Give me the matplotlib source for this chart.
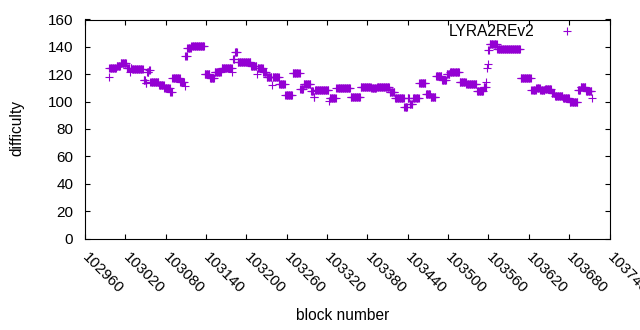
import numpy as np
import matplotlib
matplotlib.use("Agg")
import matplotlib.pyplot as plt

# Runs of consecutive blocks sharing one difficulty value (start block, end block, difficulty)
run_start = [102995, 102996, 103007, 103013, 103022, 103027, 103028, 103030, 103047, 103050,
             103052, 103055, 103057, 103070, 103078, 103087, 103090, 103102, 103108, 103109,
             103112, 103118, 103138, 103146, 103153, 103163, 103179, 103180, 103183, 103187,
             103207, 103216, 103217, 103225, 103230, 103238, 103239, 103249, 103258, 103269,
             103280, 103285, 103296, 103300, 103302, 103323, 103324, 103334, 103355, 103370,
             103386, 103394, 103413, 103421, 103435, 103440, 103443, 103448, 103457, 103467,
             103474, 103482, 103491, 103498, 103503, 103517, 103527, 103543, 103553, 103557,
             103558, 103559, 103560, 103562, 103573, 103608, 103624, 103631, 103637, 103644,
             103654, 103659, 103671, 103681, 103693, 103697, 103705, 103714]
run_end = [102995, 103006, 103012, 103021, 103026, 103027, 103029, 103046, 103049, 103051,
           103054, 103056, 103069, 103077, 103086, 103089, 103101, 103107, 103108, 103111,
           103117, 103137, 103145, 103152, 103162, 103178, 103179, 103182, 103186, 103206,
           103215, 103216, 103224, 103229, 103237, 103238, 103248, 103257, 103268, 103279,
           103284, 103295, 103299, 103301, 103322, 103323, 103333, 103354, 103369, 103385,
           103393, 103412, 103420, 103434, 103439, 103442, 103447, 103456, 103466, 103473,
           103481, 103490, 103497, 103502, 103516, 103526, 103542, 103552, 103556, 103557,
           103558, 103559, 103561, 103572, 103607, 103623, 103630, 103636, 103643, 103653,
           103658, 103670, 103680, 103692, 103696, 103704, 103713, 103714]
run_diff = [118, 124.5, 126, 128, 124.5, 121.5, 124.5, 124, 116, 113.5,
            121.5, 123, 114.5, 112, 110, 107, 117, 114.5, 111.5, 133,
            139.5, 141, 120.5, 117.5, 121.5, 124.3, 122, 131, 136, 128.7,
            126.2, 120, 124.5, 122, 117.7, 112, 117.7, 112.6, 105, 120.6,
            109, 112.6, 107.7, 103.6, 108.5, 100.4, 102.6, 110, 103.5, 111,
            109.7, 111, 106.8, 102.9, 96, 102.9, 98.5, 103, 113.3, 105.3,
            103.4, 118.5, 115.8, 120, 121.4, 114.1, 112.6, 107.7, 110.4, 114.6,
            124.3, 127.2, 137.7, 141.8, 138.4, 117, 108.5, 109.7, 108.5, 109.2,
            106, 104.3, 102.9, 99.5, 108.5, 110.9, 107.7, 102.4]

x_ticks = list(range(102960, 103741, 60))
y_ticks = list(range(0, 161, 20))
series_name = "LYRA2REv2"

blocks = np.concatenate([np.arange(s, e + 1) for s, e in zip(run_start, run_end)])
difficulty = np.concatenate([np.full(e - s + 1, d) for s, e, d in zip(run_start, run_end, run_diff)])

plt.rcParams['font.family'] = ['Liberation Sans', 'DejaVu Sans']
fig = plt.figure(figsize=(6.4, 3.3), dpi=100)
ax = fig.add_axes([85/640, 1-238.5/330, 524.5/640, 219/330])

color = '#9400d3'
ax.plot(blocks, difficulty, linestyle='none', marker='+', markersize=5.2,
        markeredgewidth=0.8, color=color, label=series_name)

ax.set_xlim(102960, 103740)
ax.set_ylim(0, 160)
ax.set_xticks(x_ticks)
ax.set_yticks(y_ticks)
ax.tick_params(direction='in', length=3.5, width=0.8, top=True, right=True,
               labelsize=11, colors='black')
ax.tick_params(axis='x', pad=12)
ax.tick_params(axis='y', pad=8.5)
for lbl in ax.get_xticklabels():
    lbl.set_rotation(-45)
    lbl.set_ha('left')
    lbl.set_va('center')
    lbl.set_rotation_mode('anchor')
for s in ax.spines.values():
    s.set_linewidth(0.8)

fig.text(343/640, 1-315/330, 'block number', ha='center', va='center', fontsize=11.2)
fig.text(17/640, 1-128/330, 'difficulty', ha='center', va='center', rotation=90, fontsize=11.2)

ax.legend(loc='upper right', bbox_to_anchor=(0.949, 0.978), frameon=False,
          markerfirst=False, numpoints=1, handlelength=2, handletextpad=1.1,
          borderpad=0, borderaxespad=0, fontsize=11.2)

fig.savefig('out.png', dpi=100)
